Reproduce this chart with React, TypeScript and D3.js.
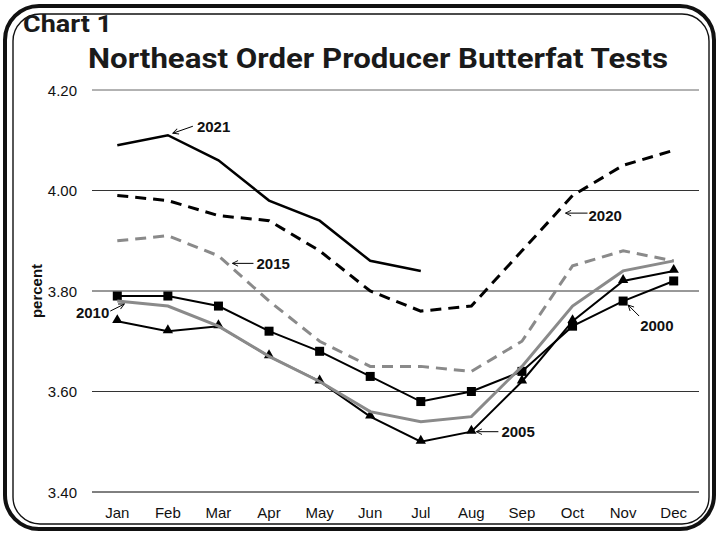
import * as d3 from 'd3';

const months = ['Jan', 'Feb', 'Mar', 'Apr', 'May', 'Jun', 'Jul', 'Aug', 'Sep', 'Oct', 'Nov', 'Dec'];
const yTicks = [3.4, 3.6, 3.8, 4.0, 4.2];

const y2000 = [3.79, 3.79, 3.77, 3.72, 3.68, 3.63, 3.58, 3.60, 3.64, 3.73, 3.78, 3.82];
const y2005 = [3.74, 3.72, 3.73, 3.67, 3.62, 3.55, 3.50, 3.52, 3.62, 3.74, 3.82, 3.84];
const y2010 = [3.78, 3.77, 3.73, 3.67, 3.62, 3.56, 3.54, 3.55, 3.65, 3.77, 3.84, 3.86];
const y2015 = [3.90, 3.91, 3.87, 3.78, 3.70, 3.65, 3.65, 3.64, 3.70, 3.85, 3.88, 3.86];
const y2020 = [3.99, 3.98, 3.95, 3.94, 3.88, 3.80, 3.76, 3.77, 3.88, 3.99, 4.05, 4.08];
const y2021 = [4.09, 4.11, 4.06, 3.98, 3.94, 3.86, 3.84];

// label, month the arrow points at, value there, then pixel offsets (arrow tail/tip, text)
const notes = [
  { label: '2021', month: 'Feb', value: 4.11, tail: [25, -9], tip: [5, -2], text: [29, -3] },
  { label: '2020', month: 'Oct', value: 3.955, tail: [15, 0], tip: [-7, 0], text: [16, 8] },
  { label: '2015', month: 'Mar', value: 3.855, tail: [35, 0], tip: [14, 0], text: [38, 6] },
  { label: '2010', month: 'Jan', value: 3.78, tail: [-7, 10], tip: [7, 3], text: [-8, 17] },
  { label: '2005', month: 'Aug', value: 3.52, tail: [27, 0], tip: [5, 0], text: [30, 5] },
  { label: '2000', month: 'Nov', value: 3.78, tail: [16, 15], tip: [5, 4], text: [17, 30] },
];

const W = 718;
const H = 533;
const plot = { left: 92, right: 699, top: 90, bottom: 492 };

export default function App() {
  const x = d3.scalePoint<string>().domain(months).range([plot.left, plot.right]).padding(0.5);
  const y = d3.scaleLinear().domain([3.4, 4.2]).range([plot.bottom, plot.top]);

  const line = d3.line<number>()
    .x((_, i) => x(months[i]) as number)
    .y(d => y(d));

  const tri = d3.symbol().type(d3.symbolTriangle).size(46)();
  const font = '"Liberation Sans", Arial, sans-serif';
  const titleFont = 'Roboto, "DejaVu Sans", sans-serif';

  return (
    <svg width={W} height={H} style={{ position: 'absolute', left: 0, top: 0, background: '#fff' }}>
      <defs>
        <marker id="arr" viewBox="0 0 10 10" refX="9" refY="5" markerWidth="7" markerHeight="7" orient="auto">
          <path d="M1,1 L9,5 L1,9" fill="none" stroke="#000" strokeWidth="1.3" />
        </marker>
      </defs>

      {/* frame */}
      <rect x={5} y={6} width={709} height={523} rx={34} fill="none" stroke="#111" strokeWidth={4} />
      <rect x={13} y={14} width={696} height={510} rx={27} fill="none" stroke="#111" strokeWidth={1.4} />

      <text x={23} y={32} fontFamily={titleFont} fontWeight="bold" fontSize={23}
        textLength={89} lengthAdjust="spacingAndGlyphs" fill="#1a1a1a">Chart 1</text>
      <text x={88} y={68} fontFamily={titleFont} fontWeight="bold" fontSize={27}
        textLength={580} lengthAdjust="spacingAndGlyphs" fill="#1a1a1a">Northeast Order Producer Butterfat Tests</text>

      {/* grid */}
      {yTicks.map(t => (
        <g key={t}>
          <line x1={plot.left} x2={plot.right} y1={y(t)} y2={y(t)}
            stroke={t === 3.4 ? '#000' : t === 4.2 ? '#666' : '#333'} strokeWidth={1} />
          <text x={77} y={y(t) + 5.5} textAnchor="end" fontFamily={font} fontSize={15} fill="#111">
            {t.toFixed(2)}
          </text>
        </g>
      ))}
      {months.map(m => (
        <text key={m} x={x(m)} y={518} textAnchor="middle" fontFamily={font} fontSize={15} fill="#111">{m}</text>
      ))}
      <text transform={`translate(42,${(plot.top + plot.bottom) / 2}) rotate(-90)`} textAnchor="middle"
        fontFamily={font} fontWeight="bold" fontSize={15} fill="#111">percent</text>

      {/* 2000 squares */}
      <path d={line(y2000) ?? ''} fill="none" stroke="#000" strokeWidth={2} />
      {y2000.map((v, i) => (
        <rect key={i} x={(x(months[i]) as number) - 4.5} y={y(v) - 4.5} width={9} height={9} fill="#000" />
      ))}
      {/* 2005 triangles */}
      <path d={line(y2005) ?? ''} fill="none" stroke="#000" strokeWidth={2} />
      {y2005.map((v, i) => (
        <path key={i} d={tri ?? ''} transform={`translate(${x(months[i])},${y(v) - 1})`} fill="#000" />
      ))}
      {/* 2010 */}
      <path d={line(y2010) ?? ''} fill="none" stroke="#8a8a8a" strokeWidth={3} />
      {/* 2015 */}
      <path d={line(y2015) ?? ''} fill="none" stroke="#8a8a8a" strokeWidth={3} strokeDasharray="11,7" />
      {/* 2020 */}
      <path d={line(y2020) ?? ''} fill="none" stroke="#000" strokeWidth={3} strokeDasharray="11,7" />
      {/* 2021 */}
      <path d={line(y2021) ?? ''} fill="none" stroke="#000" strokeWidth={2.5} />

      {notes.map(n => {
        const px = x(n.month) as number;
        const py = y(n.value);
        return (
          <g key={n.label}>
            <line x1={px + n.tail[0]} y1={py + n.tail[1]} x2={px + n.tip[0]} y2={py + n.tip[1]}
              stroke="#000" strokeWidth={1} markerEnd="url(#arr)" />
            <text x={px + n.text[0]} y={py + n.text[1]} fontFamily={font} fontWeight="bold" fontSize={15}
              textAnchor={n.text[0] < 0 ? 'end' : 'start'} fill="#111">{n.label}</text>
          </g>
        );
      })}
    </svg>
  );
}
